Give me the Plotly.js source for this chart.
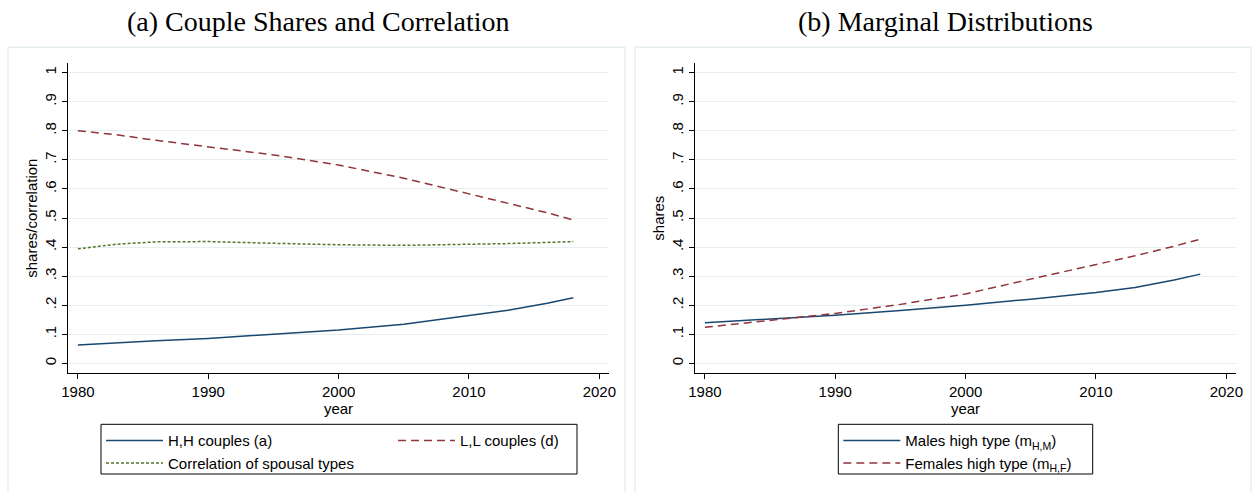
<!DOCTYPE html>
<html>
<head>
<meta charset="utf-8">
<script src="https://cdn.plot.ly/plotly-3.0.1.min.js"></script>
<style>html,body{margin:0;padding:0;background:#fff;}#chart{width:1255px;height:492px;}</style>
</head>
<body>
<div id="chart"></div>
<script>
// ---- data ----
const yearsA = [1980, 1983, 1986, 1990, 1995, 2000, 2005, 2010, 2013, 2016, 2018];
const hhCouples = [0.063, 0.071, 0.078, 0.086, 0.0998, 0.1146, 0.135, 0.164, 0.183, 0.207, 0.226];
const llCouples = [0.800, 0.786, 0.767, 0.745, 0.717, 0.682, 0.637, 0.583, 0.551, 0.518, 0.493];
const spousalCorr = [0.394, 0.410, 0.418, 0.419, 0.413, 0.408, 0.406, 0.409, 0.412, 0.416, 0.419];

const yearsB = [1980, 1985, 1990, 1995, 2000, 2005, 2010, 2013, 2016, 2018];
const malesHigh = [0.140, 0.153, 0.1655, 0.182, 0.200, 0.221, 0.244, 0.261, 0.287, 0.307];
const femalesHigh = [0.124, 0.147, 0.172, 0.203, 0.239, 0.290, 0.339, 0.370, 0.403, 0.427];

const xTickVals = [1980, 1990, 2000, 2010, 2020];
const yTickVals = [0, 0.1, 0.2, 0.3, 0.4, 0.5, 0.6, 0.7, 0.8, 0.9, 1];
const yTickText = ['0', '.1', '.2', '.3', '.4', '.5', '.6', '.7', '.8', '.9', '1'];

const seriesNamesA = ['H,H couples (a)', 'L,L couples (d)', 'Correlation of spousal types'];
const seriesNamesB = ['Males high type (m<sub>H,M</sub>)', 'Females high type (m<sub>H,F</sub>)'];
const panelTitles = ['(a) Couple Shares and Correlation', '(b) Marginal Distributions'];

// ---- styling ----
const W = 1255, H = 492;
const BLUE = '#1a476f', RED = '#90353b', GREEN = '#55752f';
const GRID = '#e6eef1', FRAME = '#e8eff1';
const SANS = 'Liberation Sans, Arial, sans-serif';
const SERIF = 'Liberation Serif, Times New Roman, serif';
const px = v => v / W;
const py = v => (H - v) / H;
const OFF = 627;

function xAxis(x0, x1, anchor) {
  return {
    domain: [px(x0), px(x1)], anchor: anchor, range: [1979.24, 2020.74],
    tickvals: xTickVals, ticks: 'outside', ticklen: 5, tickwidth: 1, tickcolor: '#000',
    showline: true, linecolor: '#000', linewidth: 1, showgrid: false, zeroline: false,
    tickfont: {family: SANS, size: 15, color: '#000'},
    title: {text: 'year', font: {family: SANS, size: 15, color: '#000'}, standoff: 0}
  };
}
function yAxis(anchor, title) {
  return {
    domain: [py(373), py(63.3)], anchor: anchor, range: [-0.033, 1.032],
    tickvals: yTickVals, ticktext: yTickText, tickangle: -90,
    ticks: 'outside', ticklen: 5, tickwidth: 1, tickcolor: '#000',
    showline: true, linecolor: '#000', linewidth: 1,
    showgrid: true, gridcolor: GRID, gridwidth: 1, zeroline: false,
    tickfont: {family: SANS, size: 15, color: '#000'},
    title: {text: title, font: {family: SANS, size: 15, color: '#000'}, standoff: 0}
  };
}

const traces = [
  {x: yearsA, y: hhCouples, name: seriesNamesA[0], type: 'scatter', mode: 'lines',
   line: {color: BLUE, width: 1.5}, xaxis: 'x', yaxis: 'y', legend: 'legend'},
  {x: yearsA, y: llCouples, name: seriesNamesA[1], type: 'scatter', mode: 'lines',
   line: {color: RED, width: 1.5, dash: '8px,5px'}, xaxis: 'x', yaxis: 'y', legend: 'legend3'},
  {x: yearsA, y: spousalCorr, name: seriesNamesA[2], type: 'scatter', mode: 'lines',
   line: {color: GREEN, width: 1.5, dash: '3px,2px'}, xaxis: 'x', yaxis: 'y', legend: 'legend'},
  {x: yearsB, y: malesHigh, name: seriesNamesB[0], type: 'scatter', mode: 'lines',
   line: {color: BLUE, width: 1.5}, xaxis: 'x2', yaxis: 'y2', legend: 'legend2'},
  {x: yearsB, y: femalesHigh, name: seriesNamesB[1], type: 'scatter', mode: 'lines',
   line: {color: RED, width: 1.5, dash: '8px,5px'}, xaxis: 'x2', yaxis: 'y2', legend: 'legend2'}
];

const legFont = {family: SANS, size: 15, color: '#000'};
function leg(x0) {
  return {x: px(x0), xanchor: 'left', y: py(424.3), yanchor: 'top', orientation: 'v',
          bgcolor: 'rgba(0,0,0,0)', borderwidth: 0, font: legFont, itemwidth: 57, tracegroupgap: 0};
}
const layout = {
  width: W, height: H,
  margin: {l: 0, r: 0, t: 0, b: 0},
  paper_bgcolor: '#fff', plot_bgcolor: '#fff',
  showlegend: true,
  xaxis: xAxis(68, 609, 'y'),
  yaxis: yAxis('x', 'shares/correlation'),
  xaxis2: xAxis(68 + OFF, 609 + OFF, 'y2'),
  yaxis2: yAxis('x2', 'shares'),
  legend: leg(101),
  legend3: leg(393),
  legend2: leg(838.3),
  shapes: [
    {type: 'rect', xref: 'paper', yref: 'paper', x0: px(8), x1: px(625), y0: py(500), y1: py(47.3),
     line: {color: FRAME, width: 1.5}, layer: 'below'},
    {type: 'rect', xref: 'paper', yref: 'paper', x0: px(635), x1: px(1251), y0: py(500), y1: py(47.3),
     line: {color: FRAME, width: 1.5}, layer: 'below'},
    {type: 'rect', xref: 'paper', yref: 'paper', x0: px(101), x1: px(577), y0: py(474), y1: py(424.3),
     line: {color: '#000', width: 1}, layer: 'above'},
    {type: 'rect', xref: 'paper', yref: 'paper', x0: px(838.3), x1: px(1092.7), y0: py(474), y1: py(424.3),
     line: {color: '#000', width: 1}, layer: 'above'}
  ],
  annotations: [
    {text: panelTitles[0], xref: 'paper', yref: 'paper', x: px(318), y: py(22), xanchor: 'center', yanchor: 'middle',
     showarrow: false, font: {family: SERIF, size: 28, color: '#000'}},
    {text: panelTitles[1], xref: 'paper', yref: 'paper', x: px(318 + OFF), y: py(22), xanchor: 'center', yanchor: 'middle',
     showarrow: false, font: {family: SERIF, size: 28, color: '#000'}}
  ]
};

Plotly.newPlot('chart', traces, layout, {displayModeBar: false, staticPlot: true});
</script>
</body>
</html>
